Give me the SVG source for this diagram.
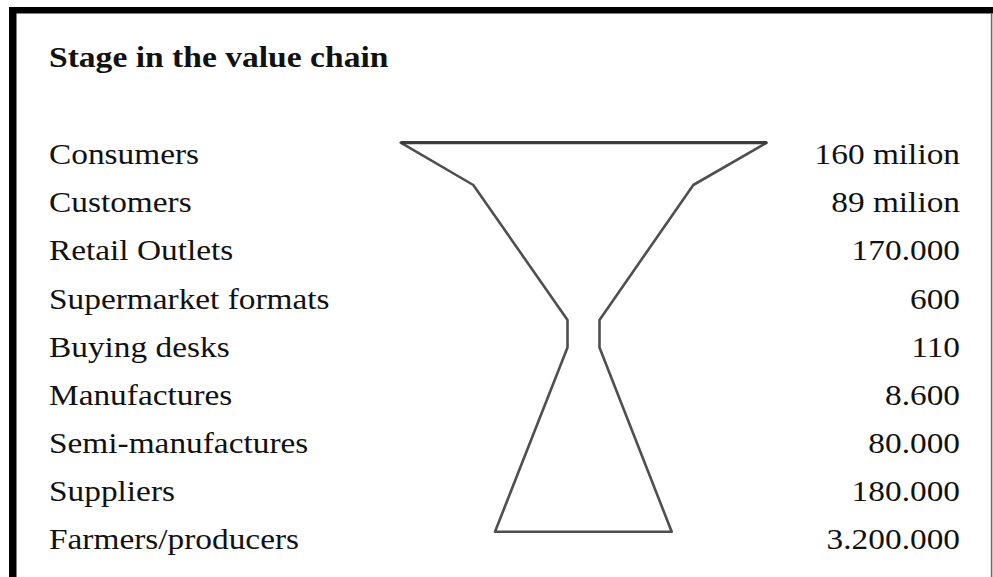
<svg xmlns="http://www.w3.org/2000/svg" width="993" height="577" viewBox="0 0 993 577">
  <style>
    .lbl { font-family: "Liberation Serif", "Times New Roman", serif; font-size: 29px; fill: #111; }
    .title { font-family: "Liberation Serif", "Times New Roman", serif; font-size: 29.2px; font-weight: bold; fill: #111; }
    .num { text-anchor: end; }
    .funnel { fill: none; stroke: #4f4f4f; stroke-width: 2.6; stroke-linejoin: round; }
  </style>
  <rect x="0" y="0" width="993" height="577" fill="#ffffff"/>
  <g id="frame">
    <rect x="9" y="7" width="984" height="6.5" fill="#000"/>
    <rect x="9" y="7" width="7.5" height="570" fill="#000"/>
    <rect x="990.8" y="13" width="1.6" height="564" fill="#6a6a6a"/>
  </g>
  <g id="funnel">
    <path class="funnel" d="M400.7,142.7 L766.7,142.7 L693.3,185 L599.5,320 L599.5,347.5 L671.7,531.7 L495,531.7 L567.5,347.5 L567.5,320 L473.3,185 Z"/>
    <line x1="400.7" y1="142.7" x2="766.7" y2="142.7" stroke="#3c3c3c" stroke-width="3.2"/>
  </g>
  <g transform="matrix(1.15 0 0 1 0 0)">
    <g id="title"><text class="title" x="42.6" y="66.7">Stage in the value chain</text></g>
    <g id="stages">
      <g id="stage-consumers"><text class="lbl" x="42.6" y="164.3">Consumers</text><text class="lbl num" x="834.8" y="164.3">160 milion</text></g>
      <g id="stage-customers"><text class="lbl" x="42.6" y="212.4">Customers</text><text class="lbl num" x="834.8" y="212.4">89 milion</text></g>
      <g id="stage-retail"><text class="lbl" x="42.6" y="260.5">Retail Outlets</text><text class="lbl num" x="834.8" y="260.5">170.000</text></g>
      <g id="stage-supermarket"><text class="lbl" x="42.6" y="308.6">Supermarket formats</text><text class="lbl num" x="834.8" y="308.6">600</text></g>
      <g id="stage-buying"><text class="lbl" x="42.6" y="356.7">Buying desks</text><text class="lbl num" x="834.8" y="356.7">110</text></g>
      <g id="stage-manufactures"><text class="lbl" x="42.6" y="404.8">Manufactures</text><text class="lbl num" x="834.8" y="404.8">8.600</text></g>
      <g id="stage-semi"><text class="lbl" x="42.6" y="452.9">Semi-manufactures</text><text class="lbl num" x="834.8" y="452.9">80.000</text></g>
      <g id="stage-suppliers"><text class="lbl" x="42.6" y="501">Suppliers</text><text class="lbl num" x="834.8" y="501">180.000</text></g>
      <g id="stage-farmers"><text class="lbl" x="42.6" y="549.1">Farmers/producers</text><text class="lbl num" x="834.8" y="549.1">3.200.000</text></g>
    </g>
  </g>
</svg>
